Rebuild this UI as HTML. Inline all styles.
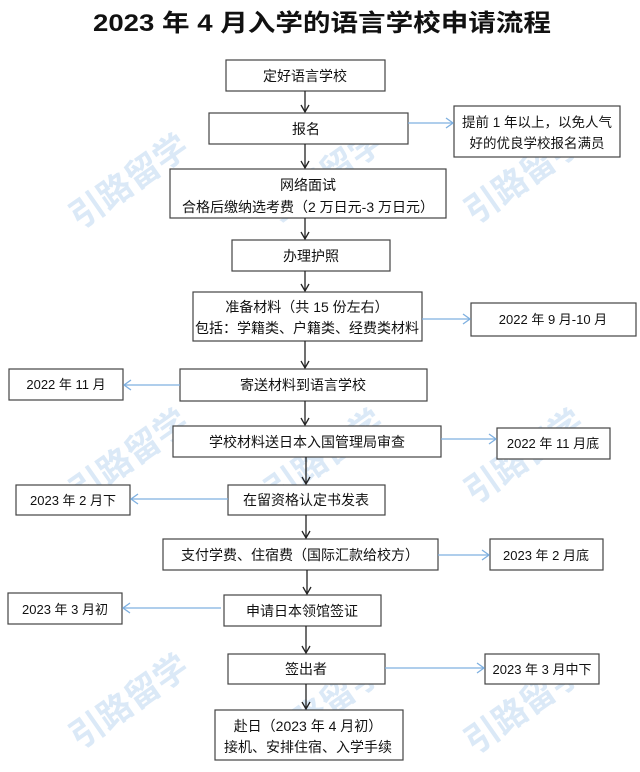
<!DOCTYPE html>
<html><head><meta charset="utf-8"><style>
html,body{margin:0;padding:0;background:#fff}
svg{display:block}
text{font-family:"Liberation Sans","Noto Sans CJK SC",sans-serif;fill:#111}
.wm{font-size:34px;font-weight:bold;fill:#dbe9f7;font-family:"Noto Sans CJK SC",sans-serif}
</style></head><body>
<svg width="640" height="772" viewBox="0 0 640 772" xmlns="http://www.w3.org/2000/svg">
<defs>
<marker id="ak" markerWidth="10" markerHeight="10" refX="8" refY="5" orient="auto" markerUnits="userSpaceOnUse"><path d="M1,1 L8,5 L1,9" fill="none" stroke="#222" stroke-width="1.3"/></marker>
<marker id="ab" markerWidth="10" markerHeight="12" refX="8" refY="6" orient="auto" markerUnits="userSpaceOnUse"><path d="M1,1 L8,6 L1,11" fill="none" stroke="#7fb0e0" stroke-width="1.3"/></marker>
</defs>
<g class="wm">
<text x="80" y="230" transform="rotate(-35 80 230)" class="wm">引路留学</text>
<text x="275" y="225" transform="rotate(-35 275 225)" class="wm">引路留学</text>
<text x="475" y="225" transform="rotate(-35 475 225)" class="wm">引路留学</text>
<text x="80" y="505" transform="rotate(-35 80 505)" class="wm">引路留学</text>
<text x="275" y="505" transform="rotate(-35 275 505)" class="wm">引路留学</text>
<text x="475" y="505" transform="rotate(-35 475 505)" class="wm">引路留学</text>
<text x="80" y="750" transform="rotate(-35 80 750)" class="wm">引路留学</text>
<text x="275" y="755" transform="rotate(-35 275 755)" class="wm">引路留学</text>
<text x="475" y="755" transform="rotate(-35 475 755)" class="wm">引路留学</text>
</g>
<text x="322" y="31" text-anchor="middle" font-size="24" font-weight="bold" textLength="458" lengthAdjust="spacingAndGlyphs">2023 年 4 月入学的语言学校申请流程</text>
<g fill="#fff" stroke="#444" stroke-width="1.2">
<rect x="226" y="60" width="159" height="31"/>
<rect x="209" y="113" width="199" height="31"/>
<rect x="454" y="106" width="166" height="51"/>
<rect x="170" y="169" width="276" height="49"/>
<rect x="232" y="240" width="158" height="31"/>
<rect x="193" y="292" width="229" height="49"/>
<rect x="471" y="303" width="165" height="33"/>
<rect x="180" y="369" width="247" height="32"/>
<rect x="9" y="369" width="114" height="31"/>
<rect x="173" y="426" width="268" height="31"/>
<rect x="497" y="428" width="113" height="31"/>
<rect x="228" y="485" width="157" height="30"/>
<rect x="16" y="485" width="114" height="30"/>
<rect x="163" y="539" width="275" height="31"/>
<rect x="490" y="539" width="113" height="31"/>
<rect x="224" y="595" width="157" height="31"/>
<rect x="8" y="593" width="114" height="31"/>
<rect x="228" y="654" width="157" height="30"/>
<rect x="485" y="654" width="114" height="30"/>
<rect x="215" y="710" width="188" height="50"/>
</g>
<g stroke="#222" stroke-width="1.3" marker-end="url(#ak)">
<line x1="305" y1="91" x2="305" y2="112"/>
<line x1="305" y1="144" x2="305" y2="168"/>
<line x1="305" y1="218" x2="305" y2="239"/>
<line x1="305" y1="271" x2="305" y2="291"/>
<line x1="305" y1="341" x2="305" y2="368"/>
<line x1="305" y1="401" x2="305" y2="425"/>
<line x1="306" y1="457" x2="306" y2="484"/>
<line x1="306" y1="515" x2="306" y2="538"/>
<line x1="307" y1="570" x2="307" y2="594"/>
<line x1="306" y1="626" x2="306" y2="653"/>
<line x1="306" y1="684" x2="306" y2="709"/>
</g>
<g stroke="#7fb0e0" stroke-width="1.3" marker-end="url(#ab)">
<line x1="408" y1="123" x2="453" y2="123"/>
<line x1="422" y1="319" x2="470" y2="319"/>
<line x1="180" y1="385" x2="124" y2="385"/>
<line x1="441" y1="439" x2="496" y2="439"/>
<line x1="228" y1="499" x2="131" y2="499"/>
<line x1="438" y1="555" x2="489" y2="555"/>
<line x1="221" y1="608" x2="123" y2="608"/>
<line x1="385" y1="668" x2="484" y2="668"/>
</g>
<g font-size="14" text-anchor="middle">
<text x="305" y="81">定好语言学校</text>
<text x="306" y="134">报名</text>
<text x="537" y="127" font-size="13.5">提前 1 年以上，以免人气</text>
<text x="537" y="148" font-size="13.5">好的优良学校报名满员</text>
<text x="308" y="190">网络面试</text>
<text x="308" y="212">合格后缴纳选考费（2 万日元-3 万日元）</text>
<text x="311" y="261">办理护照</text>
<text x="307" y="312">准备材料（共 15 份左右）</text>
<text x="307" y="333">包括：学籍类、户籍类、经费类材料</text>
<text x="553" y="324" font-size="13">2022 年 9 月-10 月</text>
<text x="303" y="390">寄送材料到语言学校</text>
<text x="66" y="389" font-size="13">2022 年 11 月</text>
<text x="307" y="447">学校材料送日本入国管理局审查</text>
<text x="553" y="448" font-size="13">2022 年 11 月底</text>
<text x="306" y="505">在留资格认定书发表</text>
<text x="73" y="505" font-size="13">2023 年 2 月下</text>
<text x="300" y="560">支付学费、住宿费（国际汇款给校方）</text>
<text x="546" y="560" font-size="13">2023 年 2 月底</text>
<text x="302" y="616">申请日本领馆签证</text>
<text x="65" y="614" font-size="13">2023 年 3 月初</text>
<text x="306" y="674">签出者</text>
<text x="542" y="674" font-size="13">2023 年 3 月中下</text>
<text x="308" y="731">赴日（2023 年 4 月初）</text>
<text x="308" y="752">接机、安排住宿、入学手续</text>
</g>
</svg>
</body></html>
